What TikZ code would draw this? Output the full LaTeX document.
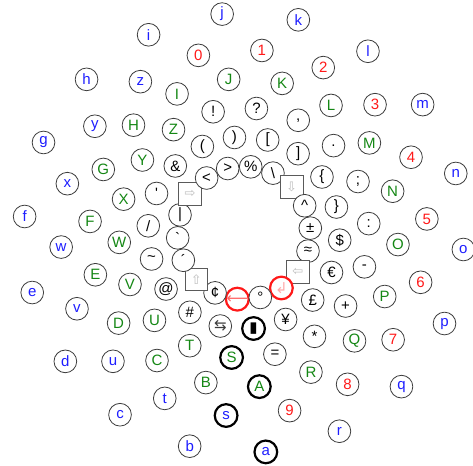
\documentclass[tikz,border=0pt]{standalone}
\usepackage{fontspec}
\setmainfont{Liberation Sans}
\newfontfamily\symfont{DejaVu Sans}
\usepackage{tikz}
\usepackage{xcolor}
\definecolor{keyblue}{RGB}{30,30,255}
\definecolor{keyred}{RGB}{255,25,25}
\definecolor{keygreen}{RGB}{20,135,20}
\definecolor{rimgray}{RGB}{60,60,60}
\definecolor{boxgray}{RGB}{90,90,90}
\definecolor{arrowgray}{RGB}{190,190,190}
\definecolor{larrow}{RGB}{255,100,100}
\definecolor{retpink}{RGB}{255,170,170}

\begin{document}
\begin{tikzpicture}[x=1pt, y=1pt,
      keycirc/.style={circle, draw=rimgray, fill=white, line width=0.8pt,
                  minimum size=22.7pt, inner sep=0pt, font=\fontsize{15}{15}\selectfont},
      lowkey/.style={keycirc, text=keyblue},
      digkey/.style={keycirc, text=keyred},
      capkey/.style={keycirc, text=keygreen},
      symkey/.style={keycirc, text=black},
      boldlow/.style={lowkey, draw=black, line width=2.2pt},
      boldcap/.style={capkey, draw=black, line width=2.2pt},
      boldsym/.style={symkey, draw=black, line width=2.2pt},
      redkey/.style={keycirc, draw=keyred, line width=2.2pt},
      boxkey/.style={rectangle, draw=boxgray, fill=white, line width=0.8pt,
                  minimum size=22.7pt, inner sep=0pt, text=arrowgray,
                  font=\symfont\fontsize{13}{13}\selectfont}
    ]
    \useasboundingbox (0,0) rectangle (473,465);
    \coordinate (hub) at (244,232);

    % outer ring: a .. r
    \foreach \st/\lab [count=\k from 0] in {boldlow/a, lowkey/b, lowkey/c, lowkey/d, lowkey/e,
        lowkey/f, lowkey/g, lowkey/h, lowkey/i, lowkey/j, lowkey/k, lowkey/l, lowkey/m,
        lowkey/n, lowkey/o, lowkey/p, lowkey/q, lowkey/r}{
      \pgfmathsetmacro\ang{275.7-20*\k}
      \node[\st] (ringa-\k) at ([shift={(\ang:220)}]hub) {\lab};
    }

    % s .. z, digits
    \foreach \st/\lab [count=\k from 0] in {boldlow/s, lowkey/t, lowkey/u, lowkey/v, lowkey/w,
        lowkey/x, lowkey/y, lowkey/z, digkey/0, digkey/1, digkey/2, digkey/3, digkey/4,
        digkey/5, digkey/6, digkey/7, digkey/8, digkey/9}{
      \pgfmathsetmacro\ang{264.4-20*\k}
      \node[\st] (ringb-\k) at ([shift={(\ang:183.4)}]hub) {\lab};
    }

    % A .. R
    \foreach \st/\lab [count=\k from 0] in {boldcap/A, capkey/B, capkey/C, capkey/D, capkey/E,
        capkey/F, capkey/G, capkey/H, capkey/I, capkey/J, capkey/K, capkey/L, capkey/M,
        capkey/N, capkey/O, capkey/P, capkey/Q, capkey/R}{
      \pgfmathsetmacro\ang{275.7-20*\k}
      \node[\st] (ringc-\k) at ([shift={(\ang:154.4)}]hub) {\lab};
    }

    % S .. Z, punctuation
    \foreach \st/\lab [count=\k from 0] in {boldcap/S, capkey/T, capkey/U, capkey/V, capkey/W,
        capkey/X, capkey/Y, capkey/Z, symkey/!, symkey/?, symkey/{,}, symkey/., symkey/;,
        symkey/:, symkey/-, symkey/+, symkey/*, symkey/=}{
      \pgfmathsetmacro\ang{264.3-20*\k}
      \node[\st] (ringd-\k) at ([shift={(\ang:125.1)}]hub) {\lab};
    }

    % brackets, currency
    \foreach \st/\lab [count=\k from 0] in {boldsym/{\symfont ▮}, symkey/{\symfont\color{rimgray}⇆},
        symkey/\#, symkey/@, symkey/\textasciitilde, symkey/{/}, symkey/\textquotesingle,
        symkey/\&, symkey/(, symkey/), symkey/[, symkey/], symkey/\{, symkey/\}, symkey/\$,
        symkey/€, symkey/£, symkey/¥}{
      \pgfmathsetmacro\ang{275.7-20*\k}
      \node[\st] (ringe-\k) at ([shift={(\ang:96)}]hub) {\lab};
    }

    % inner ring with the control keys
    \foreach \st/\lab [count=\k from 0] in {redkey/{\symfont\color{larrow}⟵}, symkey/¢,
        boxkey/⇧, symkey/´, symkey/\textasciigrave, symkey/|, boxkey/⇨, symkey/<, symkey/>,
        symkey/\%, symkey/\textbackslash, boxkey/⇩, symkey/\textasciicircum, symkey/±,
        symkey/≈, boxkey/⇦, redkey/{\symfont\color{retpink}↲}, symkey/°}{
      \pgfmathsetmacro\ang{264.2-20*\k}
      \node[\st] (ringf-\k) at ([shift={(\ang:66.5)}]hub) {\lab};
    }
  \end{tikzpicture}
\end{document}
